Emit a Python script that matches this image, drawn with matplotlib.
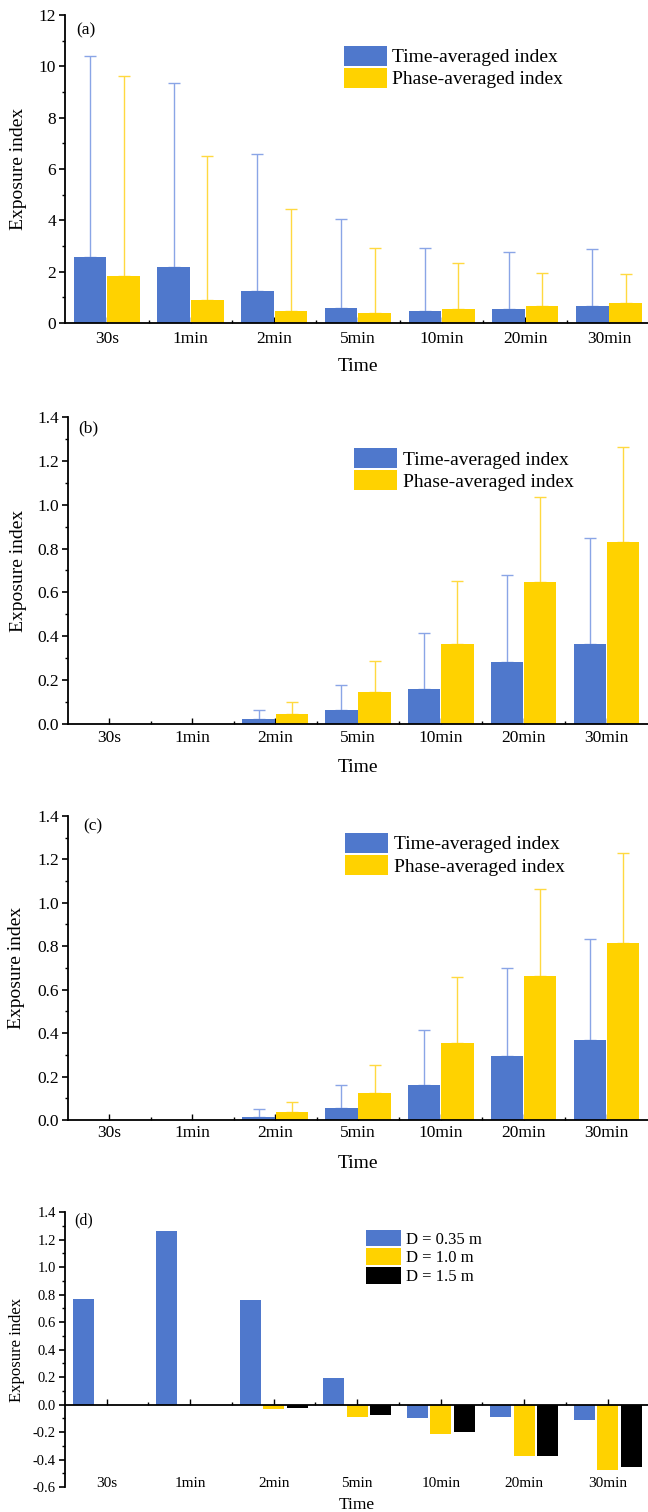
import numpy as np
import matplotlib
matplotlib.use("Agg")
import matplotlib.pyplot as plt
from matplotlib.ticker import MultipleLocator

plt.rcParams['font.family'] = ['Liberation Serif', 'DejaVu Serif']

categories = ['30s', '1min', '2min', '5min', '10min', '20min', '30min']

# panel (a)
a_time = [2.58, 2.18, 1.25, 0.60, 0.45, 0.55, 0.66]
a_time_err = [7.84, 7.17, 5.35, 3.45, 2.48, 2.23, 2.21]
a_phase = [1.82, 0.91, 0.48, 0.40, 0.55, 0.65, 0.78]
a_phase_err = [7.81, 5.60, 3.97, 2.53, 1.80, 1.30, 1.11]

# panel (b)
b_time = [0, 0, 0.023, 0.065, 0.161, 0.284, 0.365]
b_time_err = [0, 0, 0.039, 0.113, 0.254, 0.395, 0.482]
b_phase = [0, 0, 0.047, 0.144, 0.366, 0.649, 0.831]
b_phase_err = [0, 0, 0.053, 0.145, 0.286, 0.385, 0.434]

# panel (c)
c_time = [0, 0, 0.014, 0.055, 0.161, 0.296, 0.368]
c_time_err = [0, 0, 0.035, 0.105, 0.253, 0.402, 0.464]
c_phase = [0, 0, 0.037, 0.123, 0.356, 0.662, 0.815]
c_phase_err = [0, 0, 0.044, 0.130, 0.301, 0.400, 0.416]

# panel (d)
d_035 = [0.766, 1.261, 0.761, 0.190, -0.097, -0.087, -0.109]
d_10 = [0, 0, -0.032, -0.087, -0.214, -0.374, -0.476]
d_15 = [0, 0, -0.022, -0.073, -0.199, -0.374, -0.457]

blue = '#4f78cc'
yellow = '#ffd200'
blue_err = '#8aa5e6'
yellow_err = '#ffd940'

x = np.arange(len(categories))

fig = plt.figure(figsize=(6.48, 15.12), dpi=100)


def style_axes(ax, ylim, major, minor, tick_fs):
    ax.set_xlim(-0.5, 6.5)
    ax.set_ylim(*ylim)
    ax.spines['top'].set_visible(False)
    ax.spines['right'].set_visible(False)
    ax.spines['left'].set_linewidth(1.3)
    ax.spines['bottom'].set_linewidth(1.3)
    ax.yaxis.set_major_locator(MultipleLocator(major))
    ax.yaxis.set_minor_locator(MultipleLocator(minor))
    ax.set_xticks(x)
    ax.set_xticks(x[:-1] + 0.5, minor=True)
    ax.tick_params(axis='x', which='major', direction='in', length=4, width=1, labelsize=tick_fs)
    ax.tick_params(axis='x', which='minor', direction='in', length=2.5, width=1)
    ax.tick_params(axis='y', which='major', direction='out', length=4.5, width=1.2,
                   pad=2, labelsize=tick_fs)
    ax.tick_params(axis='y', which='minor', direction='out', length=2.5, width=1)


def two_series(rect, t, t_err, p, p_err, ylim, major, minor, tag, leg_xy, tag_xy, ylab_x, xpad):
    ax = fig.add_axes(rect)
    w = 0.39
    ax.bar(x - 0.2, t, w, color=blue, label='Time-averaged index', zorder=2)
    ax.bar(x + 0.2, p, w, color=yellow, label='Phase-averaged index', zorder=2)
    t = np.array(t); p = np.array(p)
    mt = t > 0
    mp = p > 0
    ax.errorbar(x[mt] - 0.2, t[mt], yerr=[np.zeros(mt.sum()), np.array(t_err)[mt]],
                fmt='none', ecolor=blue_err, elinewidth=1, capsize=4.5, capthick=1, zorder=1)
    ax.errorbar(x[mp] + 0.2, p[mp], yerr=[np.zeros(mp.sum()), np.array(p_err)[mp]],
                fmt='none', ecolor=yellow_err, elinewidth=1, capsize=4.5, capthick=1, zorder=1)
    style_axes(ax, ylim, major, minor, 12.5)
    ax.set_xticklabels(categories)
    ax.tick_params(axis='x', which='major', pad=xpad)
    ax.set_ylabel('Exposure index', fontsize=14)
    ax.yaxis.set_label_coords(ylab_x, 0.5)
    ax.set_xlabel('Time', fontsize=14, va='center')
    ax.xaxis.set_label_coords(0.5, -0.142)
    ax.text(tag_xy[0], tag_xy[1], tag, transform=ax.transAxes, fontsize=12.5, va='center')
    ax.legend(loc='upper left', bbox_to_anchor=leg_xy, frameon=False, fontsize=14,
              borderpad=0, borderaxespad=0, handlelength=2.2, handleheight=1.2,
              labelspacing=0.08, handletextpad=0.3)
    return ax


two_series([0.1003, 0.7864, 0.904, 0.2037], a_time, a_time_err, a_phase, a_phase_err,
           (0, 12), 2, 1, '(a)', (0.476, 0.9), (0.02, 0.951), -0.065, 5.5)
two_series([0.105, 0.5212, 0.895, 0.2030], b_time, b_time_err, b_phase, b_phase_err,
           (0, 1.4), 0.2, 0.1, '(b)', (0.493, 0.899), (0.017, 0.964), -0.071, 4)
two_series([0.105, 0.2593, 0.895, 0.2011], c_time, c_time_err, c_phase, c_phase_err,
           (0, 1.4), 0.2, 0.1, '(c)', (0.478, 0.944), (0.026, 0.967), -0.074, 4)

# panel (d)
ax = fig.add_axes([0.1003, 0.0165, 0.902, 0.1819])
w = 0.25
ax.bar(x - 0.28, d_035, w, color=blue, label='D = 0.35 m', zorder=2)
ax.bar(x, d_10, w, color=yellow, label='D = 1.0 m', zorder=2)
ax.bar(x + 0.28, d_15, w, color='black', label='D = 1.5 m', zorder=2)
style_axes(ax, (-0.6, 1.4), 0.2, 0.1, 10.5)
ax.yaxis.set_major_formatter(matplotlib.ticker.FormatStrFormatter('%.1f'))
ax.spines['bottom'].set_position(('data', 0))
ax.tick_params(axis='x', labelbottom=False)
for i, c in enumerate(categories):
    ax.text(x[i], 0.014, c, transform=ax.get_xaxis_transform(), ha='center', va='center',
            fontsize=11)
ax.set_ylabel('Exposure index', fontsize=12)
ax.yaxis.set_label_coords(-0.068, 0.5)
ax.text(0.5, -0.065, 'Time', transform=ax.transAxes, ha='center', va='center', fontsize=12.5)
ax.text(0.015, 0.971, '(d)', transform=ax.transAxes, fontsize=11.5, va='center')
ax.legend(loc='upper left', bbox_to_anchor=(0.515, 0.935), frameon=False, fontsize=12,
          borderpad=0, borderaxespad=0, handlelength=2.1, handleheight=1.15,
          labelspacing=0.04, handletextpad=0.3)

fig.savefig('out.png', dpi=100)
